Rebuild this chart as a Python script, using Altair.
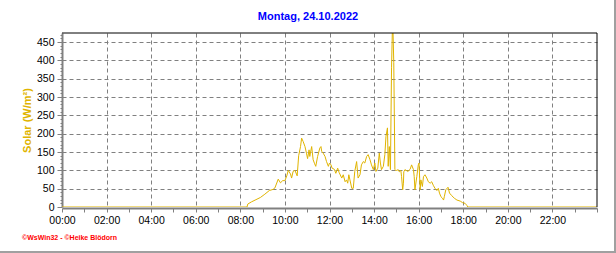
import altair as alt
import pandas as pd

# ---- data ----
times = ["00:00", "08:18", "08:20", "08:30", "08:42", "08:54", "09:06", "09:18", "09:28", "09:33",
         "09:42", "09:48", "09:54", "10:00", "10:05", "10:09", "10:15", "10:18", "10:22", "10:27",
         "10:33", "10:37", "10:42", "10:45", "10:49", "10:54", "10:58", "11:01", "11:05", "11:07",
         "11:12", "11:16", "11:20", "11:23", "11:28", "11:34", "11:37", "11:39", "11:43", "11:48",
         "11:52", "11:57", "12:00", "12:04", "12:07", "12:13", "12:17", "12:22", "12:26", "12:33",
         "12:37", "12:42", "12:46", "12:49", "12:52", "12:55", "13:00", "13:04", "13:08", "13:13",
         "13:17", "13:22", "13:26", "13:31", "13:35", "13:40", "13:44", "13:49", "13:53", "13:58",
         "14:02", "14:05", "14:10", "14:14", "14:17", "14:20", "14:25", "14:29", "14:32", "14:36",
         "14:38", "14:41", "14:44", "14:47", "14:50", "14:53", "14:56", "14:58", "15:01", "15:05",
         "15:08", "15:12", "15:14", "15:17", "15:19", "15:20", "15:23", "15:31", "15:37", "15:41",
         "15:46", "15:48", "15:50", "15:55", "15:59", "16:01", "16:04", "16:06", "16:10", "16:13",
         "16:17", "16:22", "16:26", "16:31", "16:35", "16:40", "16:44", "16:49", "16:53", "16:56",
         "17:00", "17:04", "17:07", "17:09", "17:13", "17:19", "17:23", "17:29", "17:36", "17:43",
         "17:52", "17:58", "18:05", "18:10", "18:12", "24:00"]
solar = [0, 0, 8, 14, 20, 26, 35, 45, 48, 52,
         76, 66, 72, 72, 85, 100, 90, 79, 97, 100,
         85, 140, 165, 188, 179, 165, 147, 132, 156, 138,
         165, 129, 118, 111, 138, 161, 165, 152, 147, 138,
         124, 111, 120, 115, 106, 103, 92, 106, 94, 79,
         88, 69, 74, 65, 88, 74, 51, 51, 97, 124,
         79, 88, 115, 124, 120, 138, 143, 129, 115, 102,
         120, 97, 106, 147, 120, 102, 111, 143, 193, 216,
         111, 165, 102, 380, 520, 394, 102, 100, 100, 102,
         96, 100, 83, 47, 65, 96, 102, 97, 103, 115,
         102, 83, 47, 83, 115, 120, 47, 74, 56, 83,
         88, 79, 69, 65, 69, 58, 51, 45, 51, 38,
         28, 24, 19, 28, 47, 54, 38, 31, 24, 19,
         16, 12, 10, 4, 0, 0]

x_ticks = list(range(0, 25))          # hourly ticks, labels every 2 h
y_ticks = list(range(0, 476, 10))     # minor ticks every 10, labels every 50

title_text = "Montag, 24.10.2022"
footer_text = "\u00a9WsWin32  -  \u00a9Heike Bl\u00f6dorn"
y_title = "Solar (W/m\u00b2)"

# ---- table ----
def to_hours(t):
    h, m = t.split(":")
    return int(h) + int(m) / 60.0

df = pd.DataFrame({"hour": [to_hours(t) for t in times], "solar": solar})

W, H = 535, 174
GOLD = "#E0B400"
FONT = "Liberation Sans"

x_axis = alt.Axis(
    values=x_ticks,
    labelExpr="(datum.value % 2 == 0 && datum.value < 24) ? ((datum.value < 10 ? '0' : '') + datum.value + ':00') : ''",
    grid=True, gridDash=[4, 3], gridColor="#808080",
    gridOpacity={"condition": {"test": "datum.value % 2 == 0 && datum.value > 0 && datum.value < 24", "value": 1}, "value": 0},
    tickSize=4, tickColor="#808080", domainColor="#808080", domainWidth=2,
    labelFont=FONT, labelFontSize=10.5, labelColor="black", labelPadding=3,
    labelOverlap=False, labelFlush=False, title=None, offset=1,
)
y_axis = alt.Axis(
    values=y_ticks,
    labelExpr="datum.value % 50 == 0 ? datum.value : ''",
    grid=True, gridDash=[4, 3], gridColor="#808080",
    gridOpacity={"condition": {"test": "datum.value % 50 == 0 && datum.value > 0", "value": 1}, "value": 0},
    tickSize={"condition": {"test": "datum.value % 50 == 0", "value": 5}, "value": 2},
    tickColor="#808080", domainColor="#808080", domainWidth=2,
    labelFont=FONT, labelFontSize=10.5, labelColor="black", labelPadding=3,
    labelOverlap=False, labelFlush=False,
    title=y_title, titleColor=GOLD, titleFont=FONT, titleFontSize=11, titleFontWeight="bold",
    titleAngle=270, titleX=-35, titleY=H / 2, titleBaseline="middle", titleAlign="center",
)

line = alt.Chart(df).mark_line(color=GOLD, strokeWidth=1, clip=True).encode(
    x=alt.X("hour:Q", scale=alt.Scale(domain=[0, 24], nice=False, zero=False), axis=x_axis),
    y=alt.Y("solar:Q", scale=alt.Scale(domain=[0, 475], nice=False), axis=y_axis),
)

one = alt.Data(values=[{}])
top_border = alt.Chart(one).mark_rule(color="black", strokeWidth=1).encode(
    x=alt.value(0), x2=alt.value(W), y=alt.value(0))
right_border = alt.Chart(one).mark_rule(color="black", strokeWidth=1).encode(
    x=alt.value(W), y=alt.value(0), y2=alt.value(H))
frame_right = alt.Chart(one).mark_rule(color="#A0A0A0", strokeWidth=2).encode(
    x=alt.value(553), y=alt.value(-33), y2=alt.value(220))
frame_bottom = alt.Chart(one).mark_rule(color="#A0A0A0", strokeWidth=2).encode(
    x=alt.value(-62), x2=alt.value(554), y=alt.value(219))
title = alt.Chart(one).mark_text(color="#0000FF", font=FONT, fontSize=11, fontWeight="bold",
                                 align="center", baseline="middle").encode(
    x=alt.value(246), y=alt.value(-16), text=alt.value(title_text))
footer = alt.Chart(one).mark_text(color="#FF0000", font=FONT, fontSize=7, fontWeight="bold",
                                  align="left", baseline="middle").encode(
    x=alt.value(-40), y=alt.value(205), text=alt.value(footer_text))

chart = alt.layer(line, top_border, right_border, frame_right, frame_bottom, title, footer).properties(
    width=W, height=H,
    padding={"left": 62, "top": 33, "right": 19, "bottom": 46},
    autosize=alt.AutoSizeParams(type="none"),
    background="white",
).configure_view(stroke=None)

chart.save("out.html", embed_options={"renderer": "svg", "actions": False})
